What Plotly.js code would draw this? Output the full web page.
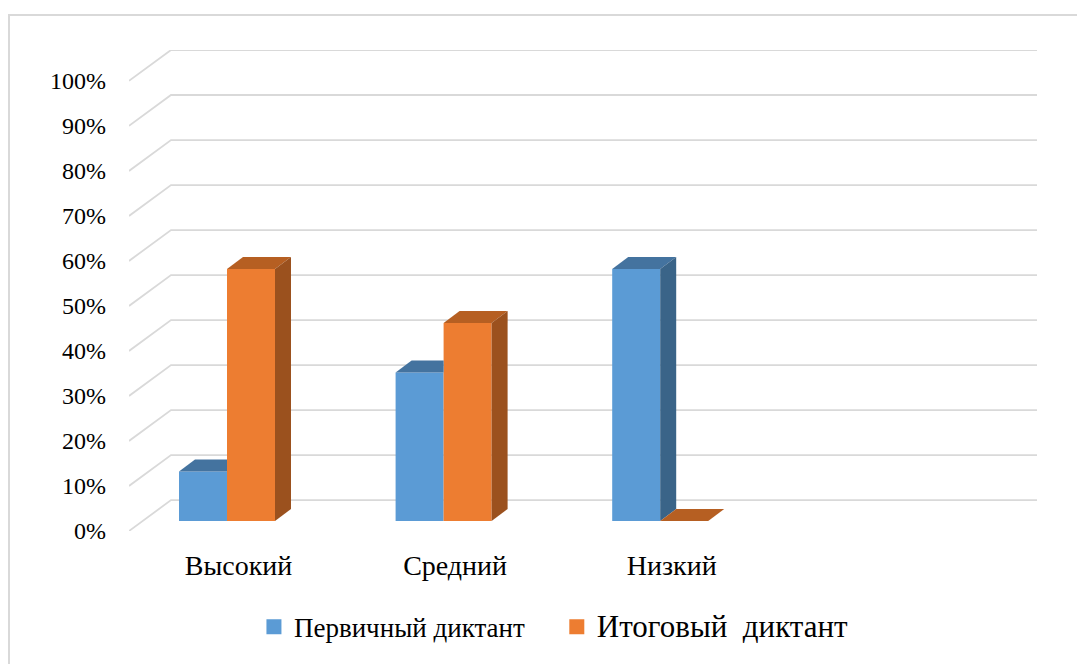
<!DOCTYPE html>
<html>
<head>
<meta charset="utf-8">
<script src="https://cdn.plot.ly/plotly-3.0.1.min.js"></script>
<style>
html,body{margin:0;padding:0;background:#fff;overflow:hidden;}
#chart{position:absolute;left:0;top:0;width:1077px;height:664px;}
#frame{position:absolute;left:8px;top:14px;width:1200px;height:800px;border-left:2px solid #D9D9D9;border-top:2px solid #D9D9D9;pointer-events:none;}
</style>
</head>
<body>
<div id="chart"></div>
<div id="frame"></div>
<script>
// ---- data ----
const categories = ['Высокий', 'Средний', 'Низкий'];
const seriesNames = ['Первичный диктант', 'Итоговый\u00A0\u00A0диктант'];
const primaryValues = [11, 33, 56];
const finalValues = [56, 44, 0];
const yTickVals = [0, 10, 20, 30, 40, 50, 60, 70, 80, 90, 100];
const yTickText = yTickVals.map(v => v + '%');

// ---- styling / geometry ----
const FONT = '"Liberation Serif", "Times New Roman", serif';
const frontColors = ['#5B9BD5', '#ED7D31'];
const topColors = ['#44739F', '#B65F22'];
const sideColors = ['#3A6488', '#9B511E'];
const GRID = '#D9D9D9';

const L = 129, R = 1037, T = 50, B = 533, W = 1077, H = 664;
const PXX = 216.6;        // px per category step
const X0PX = 227;         // px of first category group centre (front face)
const PXY = 4.52;         // px per percent
const dxu = px => px / PXX;
const dyu = px => px / PXY;
const xRange = [(L - X0PX) / PXX, (R - X0PX) / PXX];
const yRange = [0, (B - T) / PXY];

const wallDX = dxu(42), wallDY = dyu(31);
const BASE = dyu(10);
const BW = dxu(48);
const DDX = dxu(16), DDY = dyu(12);

const series = [primaryValues, finalValues];
const xs = categories.map((c, i) => i);

// gridlines as shapes below traces
const shapes = yTickVals.map(v => {
  const x0 = xRange[0], x1 = xRange[0] + wallDX, x2 = xRange[1];
  const y0 = v, y1 = v + wallDY;
  return {
    type: 'path', xref: 'x', yref: 'y', layer: 'below',
    path: `M${x0},${y0} L${x1},${y1} L${x2},${y1}`,
    line: {color: GRID, width: 1.8}
  };
});

const traces = [];
// front faces as bars
series.forEach((vals, s) => {
  traces.push({
    type: 'bar', x: xs, y: vals, base: BASE,
    offset: (s - 1) * BW, width: BW,
    marker: {color: frontColors[s], line: {width: 0}},
    name: seriesNames[s], showlegend: false, hoverinfo: 'skip'
  });
});
// top & side faces
function poly(pts, color) {
  return {
    type: 'scatter', mode: 'lines', fill: 'toself', fillcolor: color,
    x: pts.map(p => p[0]).concat([pts[0][0]]),
    y: pts.map(p => p[1]).concat([pts[0][1]]),
    line: {width: 0, color: color}, hoverinfo: 'skip', showlegend: false
  };
}
xs.forEach((c, i) => {
  series.forEach((vals, s) => {
    const a = c + (s - 1) * BW, b = a + BW, h = BASE + vals[i];
    const hasN = s + 1 < series.length;
    const nt = hasN ? BASE + series[s + 1][i] : BASE;
    if (hasN && nt >= h + DDY) {
      traces.push(poly([[a, h], [b, h], [b, h + DDY], [a + DDX, h + DDY]], topColors[s]));
    } else {
      traces.push(poly([[a, h], [b, h], [b + DDX, h + DDY], [a + DDX, h + DDY]], topColors[s]));
    }
    const lo = hasN ? Math.max(BASE, nt) : BASE;
    if (lo < h) {
      traces.push(poly([[b, lo], [b + DDX, lo + DDY], [b + DDX, h + DDY], [b, h]], sideColors[s]));
    }
  });
});
// legend entries
series.forEach((vals, s) => {
  traces.push({
    type: 'scatter', mode: 'markers', x: [null], y: [null],
    marker: {symbol: 'square', size: 15, color: frontColors[s]},
    name: s === 1 ? '<span style="font-size:31px">' + seriesNames[s] + '</span>' : seriesNames[s] + '\u00A0\u00A0\u00A0\u00A0',
    hoverinfo: 'skip'
  });
});

const layout = {
  width: W, height: H,
  margin: {l: L, r: W - R, t: T, b: H - B, pad: 0},
  paper_bgcolor: '#fff', plot_bgcolor: 'rgba(0,0,0,0)',
  barmode: 'overlay',
  showlegend: true,
  font: {family: FONT, color: '#000', size: 24},
  xaxis: {
    range: xRange, showgrid: false, zeroline: false, showline: false,
    tickmode: 'array', tickvals: xs.map(c => c + dxu(11.5)), ticktext: categories,
    ticks: '', ticklabelstandoff: 15, tickfont: {family: FONT, size: 28, color: '#000'},
    fixedrange: true
  },
  yaxis: {
    range: yRange, showgrid: false, zeroline: false, showline: false,
    tickmode: 'array', tickvals: yTickVals, ticktext: yTickText,
    ticks: '', ticklabelstandoff: 22, tickfont: {family: FONT, size: 24, color: '#000'},
    fixedrange: true
  },
  legend: {
    orientation: 'h', x: 0.468, xanchor: 'center', y: -0.2, yanchor: 'middle',
    font: {family: FONT, size: 27, color: '#000'}, itemwidth: 30,
    bgcolor: 'rgba(0,0,0,0)'
  },
  shapes: shapes
};

Plotly.newPlot('chart', traces, layout, {displayModeBar: false, staticPlot: true});
</script>
</body>
</html>
